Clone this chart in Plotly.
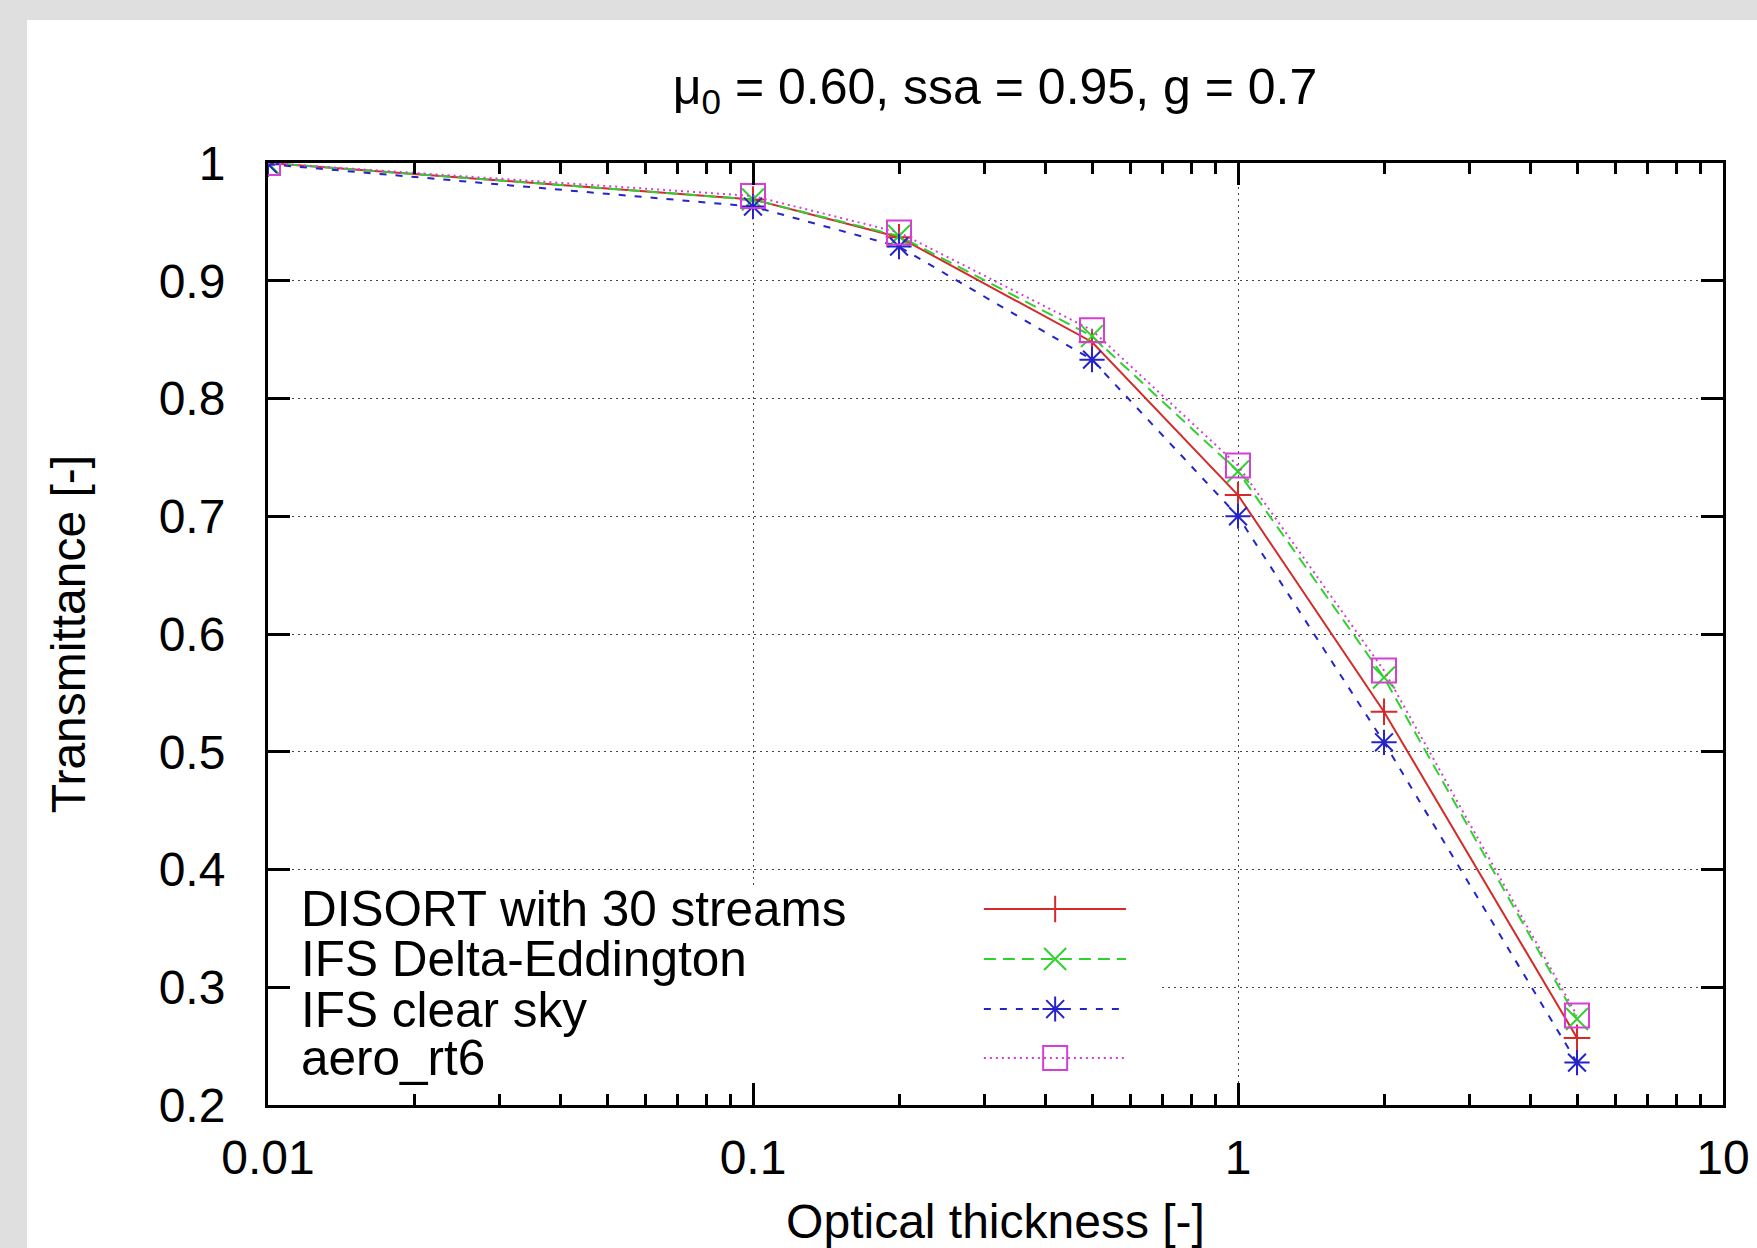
import plotly.graph_objects as go

# ---------------- data ----------------
tau = [0.01, 0.1, 0.2, 0.5, 1, 2, 5]
disort = [1.0, 0.969, 0.937, 0.848, 0.718, 0.534, 0.257]
ifs_de = [1.0, 0.969, 0.938, 0.853, 0.738, 0.563, 0.273]
ifs_clear = [0.999, 0.963, 0.929, 0.833, 0.700, 0.508, 0.236]
aero_rt6 = [1.0, 0.972, 0.941, 0.858, 0.743, 0.569, 0.276]

series_names = ["DISORT with 30 streams", "IFS Delta-Eddington", "IFS clear sky", "aero_rt6"]
x_tickvals = [0.01, 0.1, 1, 10]
x_ticktext = ["0.01", "0.1", "1", "10"]
y_tickvals = [0.2, 0.3, 0.4, 0.5, 0.6, 0.7, 0.8, 0.9, 1.0]
y_ticktext = ["0.2", "0.3", "0.4", "0.5", "0.6", "0.7", "0.8", "0.9", "1"]

title_text = "μ<sub>0</sub> = 0.60, ssa = 0.95, g = 0.7"
x_title = "Optical thickness [-]"
y_title = "Transmittance [-]"

# ---------------- styles ----------------
FONT = "Liberation Sans, Arial, Helvetica, sans-serif"
FS_TICK = 48
FS_KEY = 49.5
FS_TITLE = 50
styles = [
    dict(color="#d42a2a", dash="solid", symbol="cross-thin-open", size=19),
    dict(color="#2fd12f", dash="12px,7px", symbol="x-thin-open", size=22),
    dict(color="#2424c8", dash="7px,9px", symbol="asterisk-open", size=21),
    dict(color="#d63ed6", dash="2px,4px", symbol="square-open", size=24),
]
all_series = [disort, ifs_de, ifs_clear, aero_rt6]

fig = go.Figure()

for name, ys, st in zip(series_names, all_series, styles):
    fig.add_trace(go.Scatter(
        x=tau, y=ys, mode="lines+markers", name=name, showlegend=False,
        line=dict(color=st["color"], width=2, dash=st["dash"]),
        marker=dict(symbol=st["symbol"], size=st["size"], color=st["color"],
                    line=dict(color=st["color"], width=2)),
    ))

# opaque key box (hides grid lines behind the key), drawn on overlay axis 0..1
kb_x0, kb_x1, kb_y0, kb_y1 = 0.003, 0.6117, 0.004, 0.2325
fig.add_trace(go.Scatter(
    x=[kb_x0, kb_x1, kb_x1, kb_x0, kb_x0], y=[kb_y0, kb_y0, kb_y1, kb_y1, kb_y0],
    mode="lines", fill="toself", fillcolor="white", line=dict(width=0, color="white"),
    xaxis="x2", yaxis="y2", showlegend=False, hoverinfo="skip",
))

# custom gnuplot-style key (text left, sample right)
key_rows = [0.2081, 0.155, 0.1019, 0.0499]
key_x0, key_xm, key_x1 = 0.492, 0.541, 0.5897
for name, st, ky in zip(series_names, styles, key_rows):
    fig.add_trace(go.Scatter(
        x=[key_x0, key_x1], y=[ky, ky], mode="lines", xaxis="x2", yaxis="y2",
        showlegend=False, hoverinfo="skip",
        line=dict(color=st["color"], width=2, dash=st["dash"]),
    ))
    fig.add_trace(go.Scatter(
        x=[key_xm], y=[ky], mode="markers", xaxis="x2", yaxis="y2",
        showlegend=False, hoverinfo="skip",
        marker=dict(symbol=st["symbol"], size=st["size"], color=st["color"],
                    line=dict(color=st["color"], width=2)),
    ))
    fig.add_annotation(
        x=0.021, y=ky, xref="x domain", yref="y domain", text=name,
        showarrow=False, xanchor="left", yanchor="middle",
        font=dict(family=FONT, size=FS_KEY, color="black"),
    )

# white page panel on the grey background
fig.add_shape(type="rect", xref="paper", yref="paper",
              x0=-0.1656, x1=1.2, y0=-0.3, y1=1.1518,
              fillcolor="white", line=dict(width=0), layer="below")

minor_vals = [m * 10 ** e for e in (-2, -1, 0) for m in range(2, 10)]

fig.update_layout(
    width=1757, height=1248,
    margin=dict(l=268, r=34, t=163, b=143, autoexpand=False),
    paper_bgcolor="#dfdfdf", plot_bgcolor="white",
    font=dict(family=FONT, size=FS_TICK, color="black"),
    title=dict(text=title_text, x=0.5663, xanchor="center", y=1 - 86 / 1248,
               yanchor="middle", font=dict(family=FONT, size=FS_TITLE, color="black")),
    xaxis=dict(
        type="log", range=[-2, 1], automargin=False,
        tickvals=x_tickvals, ticktext=x_ticktext,
        ticks="inside", ticklen=22, tickwidth=2.5, tickcolor="black",
        showline=True, linewidth=3, linecolor="black", mirror="allticks",
        showgrid=True, gridcolor="#444444", gridwidth=1.3, griddash="2px,4px",
        zeroline=False, ticklabelstandoff=8,
        minor=dict(tickvals=minor_vals, ticks="inside", ticklen=11,
                   tickwidth=2.5, tickcolor="black", showgrid=False),
        title=dict(text=x_title, standoff=73, font=dict(family=FONT, size=FS_TICK)),
        tickfont=dict(family=FONT, size=FS_TICK),
    ),
    yaxis=dict(
        range=[0.2, 1.0], automargin=False,
        tickvals=y_tickvals, ticktext=y_ticktext,
        ticks="inside", ticklen=22, tickwidth=2.5, tickcolor="black",
        showline=True, linewidth=3, linecolor="black", mirror="allticks",
        showgrid=True, gridcolor="#444444", gridwidth=1.3, griddash="2px,4px",
        zeroline=False, ticklabelstandoff=30,
        title=dict(text=y_title, standoff=58, font=dict(family=FONT, size=FS_TICK)),
        tickfont=dict(family=FONT, size=FS_TICK),
    ),
    xaxis2=dict(overlaying="x", range=[0, 1], visible=False, fixedrange=True),
    yaxis2=dict(overlaying="y", range=[0, 1], visible=False, fixedrange=True),
    showlegend=False,
)

fig.write_html("out.html")
